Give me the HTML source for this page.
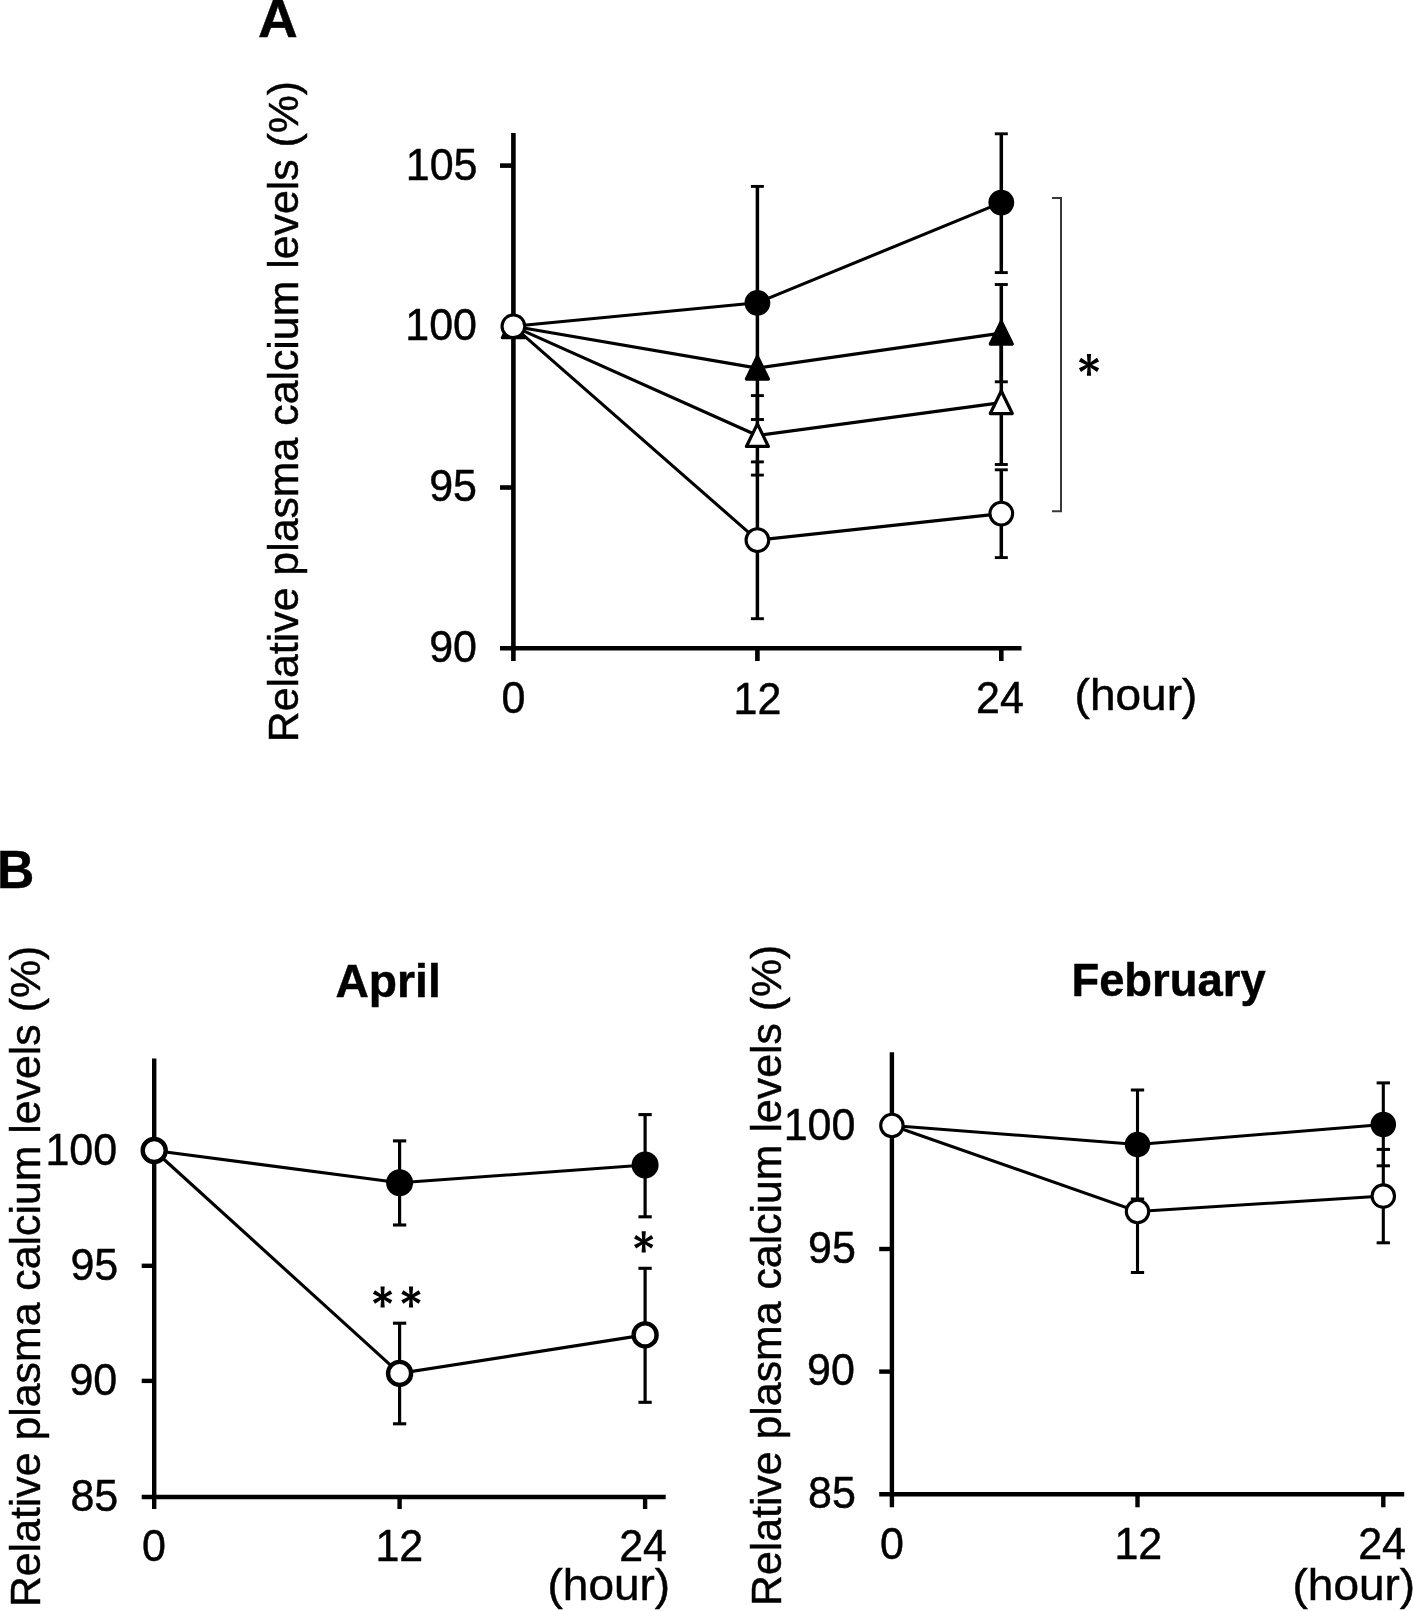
<!DOCTYPE html>
<html lang="en">
<head>
<meta charset="utf-8">
<title>Relative plasma calcium levels</title>
<style>
html,body{margin:0;padding:0;background:#fff;}
body{width:1413px;height:1611px;overflow:hidden;font-family:"Liberation Sans", sans-serif;}
svg{display:block;will-change:transform;}
text{font-family:"Liberation Sans", sans-serif;}
</style>
</head>
<body>
<svg width="1413" height="1611" viewBox="0 0 1413 1611" font-family='"Liberation Sans", sans-serif' fill="#000">
<rect width="1413" height="1611" fill="#fff"/>
<line x1="513.4" y1="133" x2="513.4" y2="661" stroke="#000" stroke-width="4.6" stroke-linecap="butt"/>
<line x1="500" y1="648.3" x2="1021.5" y2="648.3" stroke="#000" stroke-width="4.6" stroke-linecap="butt"/>
<line x1="500" y1="165.6" x2="513.4" y2="165.6" stroke="#000" stroke-width="4.6" stroke-linecap="butt"/>
<line x1="500" y1="487.5" x2="513.4" y2="487.5" stroke="#000" stroke-width="4.6" stroke-linecap="butt"/>
<line x1="757.4" y1="648.3" x2="757.4" y2="661" stroke="#000" stroke-width="4.6" stroke-linecap="butt"/>
<line x1="1001.3" y1="648.3" x2="1001.3" y2="661" stroke="#000" stroke-width="4.6" stroke-linecap="butt"/>
<text transform="translate(405.80 179.50) scale(1.0000 1.0400)" font-size="43.00" font-weight="normal" stroke="#000" stroke-width="0.45">105</text>
<text transform="translate(405.30 339.90) scale(1.0000 1.0400)" font-size="43.00" font-weight="normal" stroke="#000" stroke-width="0.45">100</text>
<text transform="translate(429.20 501.20) scale(1.0000 1.0400)" font-size="43.00" font-weight="normal" stroke="#000" stroke-width="0.45">95</text>
<text transform="translate(429.20 662.40) scale(1.0000 1.0400)" font-size="43.00" font-weight="normal" stroke="#000" stroke-width="0.45">90</text>
<text transform="translate(501.40 713.00) scale(1.0000 1.0400)" font-size="43.00" font-weight="normal" stroke="#000" stroke-width="0.45">0</text>
<text transform="translate(733.50 713.60) scale(1.0000 1.0400)" font-size="43.00" font-weight="normal" stroke="#000" stroke-width="0.45">12</text>
<text transform="translate(976.00 713.20) scale(1.0000 1.0400)" font-size="43.00" font-weight="normal" stroke="#000" stroke-width="0.45">24</text>
<text transform="translate(1074.60 710.20) scale(1.0000 0.9600)" font-size="46.00" font-weight="normal" stroke="#000" stroke-width="0.47">(hour)</text>
<text transform="translate(297.50 742.20) rotate(-90) scale(1.0000 1.0134)" font-size="42.82" font-weight="normal" stroke="#000" stroke-width="0.45">Relative plasma calcium levels (%)</text>
<text transform="translate(258.00 36.85) scale(1.0794 1.0422)" font-size="51.00" font-weight="bold" stroke="#000" stroke-width="0.45">A</text>
<line x1="757.4" y1="186.4" x2="757.4" y2="419.5" stroke="#000" stroke-width="3.5" stroke-linecap="butt"/>
<line x1="750.9" y1="186.4" x2="763.9" y2="186.4" stroke="#000" stroke-width="2.9" stroke-linecap="butt"/>
<line x1="750.9" y1="419.5" x2="763.9" y2="419.5" stroke="#000" stroke-width="2.9" stroke-linecap="butt"/>
<line x1="757.4" y1="395.6" x2="757.4" y2="475.1" stroke="#000" stroke-width="3.5" stroke-linecap="butt"/>
<line x1="750.9" y1="395.6" x2="763.9" y2="395.6" stroke="#000" stroke-width="2.9" stroke-linecap="butt"/>
<line x1="750.9" y1="475.1" x2="763.9" y2="475.1" stroke="#000" stroke-width="2.9" stroke-linecap="butt"/>
<line x1="757.4" y1="461.9" x2="757.4" y2="618.7" stroke="#000" stroke-width="3.5" stroke-linecap="butt"/>
<line x1="750.9" y1="461.9" x2="763.9" y2="461.9" stroke="#000" stroke-width="2.9" stroke-linecap="butt"/>
<line x1="750.9" y1="618.7" x2="763.9" y2="618.7" stroke="#000" stroke-width="2.9" stroke-linecap="butt"/>
<line x1="1001.3" y1="133.8" x2="1001.3" y2="272.6" stroke="#000" stroke-width="3.5" stroke-linecap="butt"/>
<line x1="994.8" y1="133.8" x2="1007.8" y2="133.8" stroke="#000" stroke-width="2.9" stroke-linecap="butt"/>
<line x1="994.8" y1="272.6" x2="1007.8" y2="272.6" stroke="#000" stroke-width="2.9" stroke-linecap="butt"/>
<line x1="1001.3" y1="284.5" x2="1001.3" y2="381.8" stroke="#000" stroke-width="3.5" stroke-linecap="butt"/>
<line x1="994.8" y1="284.5" x2="1007.8" y2="284.5" stroke="#000" stroke-width="2.9" stroke-linecap="butt"/>
<line x1="994.8" y1="381.8" x2="1007.8" y2="381.8" stroke="#000" stroke-width="2.9" stroke-linecap="butt"/>
<line x1="1001.3" y1="343.5" x2="1001.3" y2="464.5" stroke="#000" stroke-width="3.5" stroke-linecap="butt"/>
<line x1="994.8" y1="343.5" x2="1007.8" y2="343.5" stroke="#000" stroke-width="2.9" stroke-linecap="butt"/>
<line x1="994.8" y1="464.5" x2="1007.8" y2="464.5" stroke="#000" stroke-width="2.9" stroke-linecap="butt"/>
<line x1="1001.3" y1="469.8" x2="1001.3" y2="557.6" stroke="#000" stroke-width="3.5" stroke-linecap="butt"/>
<line x1="994.8" y1="469.8" x2="1007.8" y2="469.8" stroke="#000" stroke-width="2.9" stroke-linecap="butt"/>
<line x1="994.8" y1="557.6" x2="1007.8" y2="557.6" stroke="#000" stroke-width="2.9" stroke-linecap="butt"/>
<polyline points="513.4,326.3 757.4,302.8 1001.3,202.6" fill="none" stroke="#000" stroke-width="3.1" stroke-linejoin="round"/>
<polyline points="513.4,326.3 757.4,368.1 1001.3,333.1" fill="none" stroke="#000" stroke-width="3.1" stroke-linejoin="round"/>
<polyline points="513.4,326.3 757.4,435.5 1001.3,402.6" fill="none" stroke="#000" stroke-width="3.1" stroke-linejoin="round"/>
<polyline points="513.4,326.3 757.4,540.1 1001.3,513.6" fill="none" stroke="#000" stroke-width="3.1" stroke-linejoin="round"/>
<path d="M513.4 315.15 L524.4 337.75 L502.4 337.75 Z" fill="#000" stroke="#000" stroke-width="3.2" stroke-linejoin="round"/>
<circle cx="513.4" cy="326.3" r="11.35" fill="#fff" stroke="#000" stroke-width="3.1"/>
<circle cx="757.4" cy="302.8" r="12.9" fill="#000"/>
<circle cx="1001.3" cy="202.6" r="12.9" fill="#000"/>
<path d="M757.4 356.45 L768.4 379.05 L746.4 379.05 Z" fill="#000" stroke="#000" stroke-width="3.2" stroke-linejoin="round"/>
<path d="M1001.3 321.45 L1012.3 344.05 L990.3 344.05 Z" fill="#000" stroke="#000" stroke-width="3.2" stroke-linejoin="round"/>
<path d="M757.4 423.85 L768.4 446.45 L746.4 446.45 Z" fill="#fff" stroke="#000" stroke-width="3.2" stroke-linejoin="round"/>
<path d="M1001.3 390.95 L1012.3 413.55 L990.3 413.55 Z" fill="#fff" stroke="#000" stroke-width="3.2" stroke-linejoin="round"/>
<circle cx="757.4" cy="540.1" r="11.35" fill="#fff" stroke="#000" stroke-width="3.1"/>
<circle cx="1001.3" cy="513.6" r="11.35" fill="#fff" stroke="#000" stroke-width="3.1"/>
<path d="M1052 198.1 H1061 V511.2 H1052" fill="none" stroke="#383838" stroke-width="2"/>
<g transform="translate(1089.0 364.9)"><path transform="rotate(0)" d="M-1.35 0 L-2.1 -10.9 L2.1 -10.9 L1.35 0 Z"/><path transform="rotate(180)" d="M-1.35 0 L-2.1 -10.9 L2.1 -10.9 L1.35 0 Z"/><path transform="rotate(60)" d="M-1.35 0 L-2.1 -10.450039872332225 L2.1 -10.450039872332225 L1.35 0 Z"/><path transform="rotate(120)" d="M-1.35 0 L-2.1 -10.450039872332225 L2.1 -10.450039872332225 L1.35 0 Z"/><path transform="rotate(240)" d="M-1.35 0 L-2.1 -10.450039872332225 L2.1 -10.450039872332225 L1.35 0 Z"/><path transform="rotate(300)" d="M-1.35 0 L-2.1 -10.450039872332225 L2.1 -10.450039872332225 L1.35 0 Z"/></g>
<line x1="154.2" y1="1058.5" x2="154.2" y2="1509" stroke="#000" stroke-width="4.4" stroke-linecap="butt"/>
<line x1="141.7" y1="1497.0" x2="665.7" y2="1497.0" stroke="#000" stroke-width="4.4" stroke-linecap="butt"/>
<line x1="141.7" y1="1265.8" x2="154.2" y2="1265.8" stroke="#000" stroke-width="4.4" stroke-linecap="butt"/>
<line x1="141.7" y1="1380.9" x2="154.2" y2="1380.9" stroke="#000" stroke-width="4.4" stroke-linecap="butt"/>
<line x1="399.6" y1="1497.0" x2="399.6" y2="1509" stroke="#000" stroke-width="4.4" stroke-linecap="butt"/>
<line x1="645.1" y1="1497.0" x2="645.1" y2="1509" stroke="#000" stroke-width="4.4" stroke-linecap="butt"/>
<text transform="translate(45.40 1164.60) scale(1.0000 1.0400)" font-size="43.00" font-weight="normal" stroke="#000" stroke-width="0.45">100</text>
<text transform="translate(70.40 1279.50) scale(1.0000 1.0400)" font-size="43.00" font-weight="normal" stroke="#000" stroke-width="0.45">95</text>
<text transform="translate(69.40 1394.80) scale(1.0000 1.0400)" font-size="43.00" font-weight="normal" stroke="#000" stroke-width="0.45">90</text>
<text transform="translate(70.40 1511.10) scale(1.0000 1.0400)" font-size="43.00" font-weight="normal" stroke="#000" stroke-width="0.45">85</text>
<text transform="translate(142.10 1560.70) scale(1.0000 1.0400)" font-size="43.00" font-weight="normal" stroke="#000" stroke-width="0.45">0</text>
<text transform="translate(375.40 1560.70) scale(1.0000 1.0400)" font-size="43.00" font-weight="normal" stroke="#000" stroke-width="0.45">12</text>
<text transform="translate(619.20 1560.70) scale(1.0000 1.0400)" font-size="43.00" font-weight="normal" stroke="#000" stroke-width="0.45">24</text>
<text transform="translate(547.50 1600.00) scale(1.0000 0.9600)" font-size="46.00" font-weight="normal" stroke="#000" stroke-width="0.47">(hour)</text>
<text transform="translate(39.90 1607.10) rotate(-90) scale(1.0000 1.0134)" font-size="42.82" font-weight="normal" stroke="#000" stroke-width="0.45">Relative plasma calcium levels (%)</text>
<text transform="translate(-3.10 888.30) scale(1.0000 1.0512)" font-size="51.66" font-weight="bold" stroke="#000" stroke-width="0.45">B</text>
<text transform="translate(335.50 996.80) scale(1.0000 1.0000)" font-size="46.20" font-weight="bold" stroke="#000" stroke-width="0.45">April</text>
<line x1="399.6" y1="1140.9" x2="399.6" y2="1225.0" stroke="#000" stroke-width="3.2" stroke-linecap="butt"/>
<line x1="392.95000000000005" y1="1140.9" x2="406.25" y2="1140.9" stroke="#000" stroke-width="3.1" stroke-linecap="butt"/>
<line x1="392.95000000000005" y1="1225.0" x2="406.25" y2="1225.0" stroke="#000" stroke-width="3.1" stroke-linecap="butt"/>
<line x1="645.1" y1="1114.6" x2="645.1" y2="1216.8" stroke="#000" stroke-width="3.2" stroke-linecap="butt"/>
<line x1="638.45" y1="1114.6" x2="651.75" y2="1114.6" stroke="#000" stroke-width="3.1" stroke-linecap="butt"/>
<line x1="638.45" y1="1216.8" x2="651.75" y2="1216.8" stroke="#000" stroke-width="3.1" stroke-linecap="butt"/>
<line x1="399.6" y1="1323.2" x2="399.6" y2="1423.8" stroke="#000" stroke-width="3.2" stroke-linecap="butt"/>
<line x1="392.95000000000005" y1="1323.2" x2="406.25" y2="1323.2" stroke="#000" stroke-width="3.1" stroke-linecap="butt"/>
<line x1="392.95000000000005" y1="1423.8" x2="406.25" y2="1423.8" stroke="#000" stroke-width="3.1" stroke-linecap="butt"/>
<line x1="645.1" y1="1268.3" x2="645.1" y2="1402.3" stroke="#000" stroke-width="3.2" stroke-linecap="butt"/>
<line x1="638.45" y1="1268.3" x2="651.75" y2="1268.3" stroke="#000" stroke-width="3.1" stroke-linecap="butt"/>
<line x1="638.45" y1="1402.3" x2="651.75" y2="1402.3" stroke="#000" stroke-width="3.1" stroke-linecap="butt"/>
<polyline points="154.2,1150.5 399.6,1182.8 645.1,1165.0" fill="none" stroke="#000" stroke-width="3.1"/>
<polyline points="154.2,1150.5 399.6,1373.4 645.1,1334.9" fill="none" stroke="#000" stroke-width="3.1"/>
<circle cx="154.2" cy="1150.5" r="11.5" fill="#fff" stroke="#000" stroke-width="4.4"/>
<circle cx="399.6" cy="1182.8" r="13.5" fill="#000"/>
<circle cx="645.1" cy="1165.0" r="13.5" fill="#000"/>
<circle cx="399.6" cy="1373.4" r="11.5" fill="#fff" stroke="#000" stroke-width="4.4"/>
<circle cx="645.1" cy="1334.9" r="11.5" fill="#fff" stroke="#000" stroke-width="4.4"/>
<g transform="translate(382.6 1297.0)"><path transform="rotate(0)" d="M-1.35 0 L-2.1 -10.6 L2.1 -10.6 L1.35 0 Z"/><path transform="rotate(180)" d="M-1.35 0 L-2.1 -10.6 L2.1 -10.6 L1.35 0 Z"/><path transform="rotate(60)" d="M-1.35 0 L-2.1 -9.988159656980523 L2.1 -9.988159656980523 L1.35 0 Z"/><path transform="rotate(120)" d="M-1.35 0 L-2.1 -9.988159656980523 L2.1 -9.988159656980523 L1.35 0 Z"/><path transform="rotate(240)" d="M-1.35 0 L-2.1 -9.988159656980523 L2.1 -9.988159656980523 L1.35 0 Z"/><path transform="rotate(300)" d="M-1.35 0 L-2.1 -9.988159656980523 L2.1 -9.988159656980523 L1.35 0 Z"/></g>
<g transform="translate(411.0 1297.0)"><path transform="rotate(0)" d="M-1.35 0 L-2.1 -10.6 L2.1 -10.6 L1.35 0 Z"/><path transform="rotate(180)" d="M-1.35 0 L-2.1 -10.6 L2.1 -10.6 L1.35 0 Z"/><path transform="rotate(60)" d="M-1.35 0 L-2.1 -9.988159656980523 L2.1 -9.988159656980523 L1.35 0 Z"/><path transform="rotate(120)" d="M-1.35 0 L-2.1 -9.988159656980523 L2.1 -9.988159656980523 L1.35 0 Z"/><path transform="rotate(240)" d="M-1.35 0 L-2.1 -9.988159656980523 L2.1 -9.988159656980523 L1.35 0 Z"/><path transform="rotate(300)" d="M-1.35 0 L-2.1 -9.988159656980523 L2.1 -9.988159656980523 L1.35 0 Z"/></g>
<g transform="translate(643.7 1241.8)"><path transform="rotate(0)" d="M-1.35 0 L-2.1 -10.6 L2.1 -10.6 L1.35 0 Z"/><path transform="rotate(180)" d="M-1.35 0 L-2.1 -10.6 L2.1 -10.6 L1.35 0 Z"/><path transform="rotate(60)" d="M-1.35 0 L-2.1 -9.988159656980523 L2.1 -9.988159656980523 L1.35 0 Z"/><path transform="rotate(120)" d="M-1.35 0 L-2.1 -9.988159656980523 L2.1 -9.988159656980523 L1.35 0 Z"/><path transform="rotate(240)" d="M-1.35 0 L-2.1 -9.988159656980523 L2.1 -9.988159656980523 L1.35 0 Z"/><path transform="rotate(300)" d="M-1.35 0 L-2.1 -9.988159656980523 L2.1 -9.988159656980523 L1.35 0 Z"/></g>
<line x1="891.9" y1="1052.3" x2="891.9" y2="1507.3" stroke="#000" stroke-width="4.4" stroke-linecap="butt"/>
<line x1="879.2" y1="1494.3" x2="1404.2" y2="1494.3" stroke="#000" stroke-width="4.4" stroke-linecap="butt"/>
<line x1="879.2" y1="1249.0" x2="891.9" y2="1249.0" stroke="#000" stroke-width="4.4" stroke-linecap="butt"/>
<line x1="879.2" y1="1371.6" x2="891.9" y2="1371.6" stroke="#000" stroke-width="4.4" stroke-linecap="butt"/>
<line x1="1137.5" y1="1494.3" x2="1137.5" y2="1507.3" stroke="#000" stroke-width="4.4" stroke-linecap="butt"/>
<line x1="1383.3" y1="1494.3" x2="1383.3" y2="1507.3" stroke="#000" stroke-width="4.4" stroke-linecap="butt"/>
<text transform="translate(783.70 1139.80) scale(1.0000 1.0400)" font-size="43.00" font-weight="normal" stroke="#000" stroke-width="0.45">100</text>
<text transform="translate(808.00 1262.50) scale(1.0000 1.0400)" font-size="43.00" font-weight="normal" stroke="#000" stroke-width="0.45">95</text>
<text transform="translate(807.00 1385.30) scale(1.0000 1.0400)" font-size="43.00" font-weight="normal" stroke="#000" stroke-width="0.45">90</text>
<text transform="translate(808.00 1508.40) scale(1.0000 1.0400)" font-size="43.00" font-weight="normal" stroke="#000" stroke-width="0.45">85</text>
<text transform="translate(880.10 1559.40) scale(1.0000 1.0400)" font-size="43.00" font-weight="normal" stroke="#000" stroke-width="0.45">0</text>
<text transform="translate(1114.40 1559.40) scale(1.0000 1.0400)" font-size="43.00" font-weight="normal" stroke="#000" stroke-width="0.45">12</text>
<text transform="translate(1358.20 1559.40) scale(1.0000 1.0400)" font-size="43.00" font-weight="normal" stroke="#000" stroke-width="0.45">24</text>
<text transform="translate(1292.50 1600.00) scale(1.0000 0.9600)" font-size="46.00" font-weight="normal" stroke="#000" stroke-width="0.47">(hour)</text>
<text transform="translate(781.00 1606.00) rotate(-90) scale(1.0000 1.0134)" font-size="42.82" font-weight="normal" stroke="#000" stroke-width="0.45">Relative plasma calcium levels (%)</text>
<text transform="translate(1071.40 996.20) scale(1.0000 1.0000)" font-size="45.40" font-weight="bold" stroke="#000" stroke-width="0.45">February</text>
<line x1="1137.5" y1="1090.0" x2="1137.5" y2="1199.0" stroke="#000" stroke-width="3.1" stroke-linecap="butt"/>
<line x1="1130.85" y1="1090.0" x2="1144.15" y2="1090.0" stroke="#000" stroke-width="3.0" stroke-linecap="butt"/>
<line x1="1130.85" y1="1199.0" x2="1144.15" y2="1199.0" stroke="#000" stroke-width="3.0" stroke-linecap="butt"/>
<line x1="1137.5" y1="1149.0" x2="1137.5" y2="1272.5" stroke="#000" stroke-width="3.1" stroke-linecap="butt"/>
<line x1="1130.85" y1="1149.0" x2="1144.15" y2="1149.0" stroke="#000" stroke-width="3.0" stroke-linecap="butt"/>
<line x1="1130.85" y1="1272.5" x2="1144.15" y2="1272.5" stroke="#000" stroke-width="3.0" stroke-linecap="butt"/>
<line x1="1383.3" y1="1082.9" x2="1383.3" y2="1165.8" stroke="#000" stroke-width="3.1" stroke-linecap="butt"/>
<line x1="1376.6499999999999" y1="1082.9" x2="1389.95" y2="1082.9" stroke="#000" stroke-width="3.0" stroke-linecap="butt"/>
<line x1="1376.6499999999999" y1="1165.8" x2="1389.95" y2="1165.8" stroke="#000" stroke-width="3.0" stroke-linecap="butt"/>
<line x1="1383.3" y1="1149.4" x2="1383.3" y2="1242.8" stroke="#000" stroke-width="3.1" stroke-linecap="butt"/>
<line x1="1376.6499999999999" y1="1149.4" x2="1389.95" y2="1149.4" stroke="#000" stroke-width="3.0" stroke-linecap="butt"/>
<line x1="1376.6499999999999" y1="1242.8" x2="1389.95" y2="1242.8" stroke="#000" stroke-width="3.0" stroke-linecap="butt"/>
<polyline points="891.9,1125.5 1137.5,1144.4 1383.3,1124.5" fill="none" stroke="#000" stroke-width="3.0"/>
<polyline points="891.9,1125.5 1137.5,1211.5 1383.3,1196.1" fill="none" stroke="#000" stroke-width="3.0"/>
<circle cx="891.9" cy="1125.5" r="11.2" fill="#fff" stroke="#000" stroke-width="3.1"/>
<circle cx="1137.5" cy="1144.4" r="12.75" fill="#000"/>
<circle cx="1383.3" cy="1124.5" r="12.75" fill="#000"/>
<circle cx="1137.5" cy="1211.5" r="11.2" fill="#fff" stroke="#000" stroke-width="3.1"/>
<circle cx="1383.3" cy="1196.1" r="11.2" fill="#fff" stroke="#000" stroke-width="3.1"/>
</svg>
</body>
</html>
